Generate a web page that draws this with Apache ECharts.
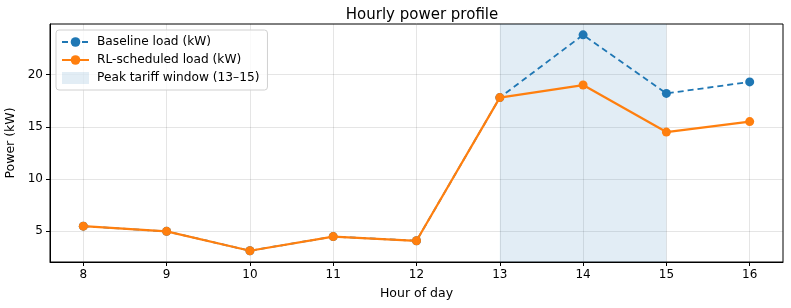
<!DOCTYPE html>
<html>
<head>
<meta charset="utf-8">
<script src="https://cdn.jsdelivr.net/npm/echarts@6/dist/echarts.min.js"></script>
<style>
  html, body { margin: 0; padding: 0; background: #fff; }
  #chart { width: 791px; height: 308px; }
</style>
</head>
<body>
<div id="chart"></div>
<script>
// hours of the day and loads
const hours = [8, 9, 10, 11, 12, 13, 14, 15, 16];
const baselineLoad = [5.5, 5.0, 3.15, 4.5, 4.1, 17.8, 23.8, 18.2, 19.3];
const rlLoad = [5.5, 5.0, 3.15, 4.5, 4.1, 17.8, 19.0, 14.5, 15.5];
const peakWindow = [13, 15];
const xTicks = [8, 9, 10, 11, 12, 13, 14, 15, 16];
const yTicks = [5, 10, 15, 20];

const font = 'DejaVu Sans';
const pairs = (vals) => hours.map((h, i) => [h, vals[i]]);
const bandColor = 'rgba(31,119,180,0.13)';

const chart = echarts.init(document.getElementById('chart'), null, { renderer: 'canvas' });

const option = {
  animation: false,
  textStyle: { fontFamily: font },
  title: {
    text: 'Hourly power profile',
    left: 417, top: 3, textAlign: 'center',
    textStyle: { fontFamily: font, fontSize: 15, fontWeight: 'normal', color: '#000' }
  },
  grid: {
    left: 50, right: 8, top: 24, bottom: 46,
    outerBoundsMode: 'none',
    show: true, borderColor: '#000', borderWidth: 1
  },
  legend: {
    orient: 'vertical',
    left: 56, top: 30,
    padding: [6, 8, 6, 5],
    itemGap: 6,
    itemWidth: 27, itemHeight: 12,
    backgroundColor: 'rgba(255,255,255,0.8)',
    borderColor: '#d0d0d0', borderWidth: 1, borderRadius: 3,
    textStyle: { fontFamily: font, fontSize: 12.2, color: '#000', padding: [0, 0, 0, 3] },
    data: [
      { name: 'Baseline load (kW)' },
      { name: 'RL-scheduled load (kW)' },
      { name: 'Peak tariff window (13–15)', icon: 'rect', itemStyle: { color: bandColor } }
    ]
  },
  xAxis: {
    type: 'value', min: 7.6, max: 16.4,
    name: 'Hour of day', nameLocation: 'middle', nameGap: 25,
    nameTextStyle: { fontFamily: font, fontSize: 12.5, color: '#000' },
    axisLine: { show: true, onZero: false, lineStyle: { color: '#000', width: 1 } },
    axisTick: { show: true, length: 4, customValues: xTicks, lineStyle: { color: '#000' } },
    axisLabel: { customValues: xTicks, fontFamily: font, fontSize: 12, color: '#000', margin: 7 },
    splitLine: { show: true, lineStyle: { color: 'rgba(0,0,0,0.1)', width: 1 } }
  },
  yAxis: {
    type: 'value', min: 2.07, max: 24.84,
    name: 'Power (kW)', nameLocation: 'middle', nameGap: 26,
    nameTextStyle: { fontFamily: font, fontSize: 12.5, color: '#000' },
    axisLine: { show: true, onZero: false, lineStyle: { color: '#000', width: 1 } },
    axisTick: { show: true, length: 4, customValues: yTicks, lineStyle: { color: '#000' } },
    axisLabel: { customValues: yTicks, fontFamily: font, fontSize: 12, color: '#000', margin: 7 },
    splitLine: { show: true, lineStyle: { color: 'rgba(0,0,0,0.1)', width: 1 } }
  },
  series: [
    {
      name: 'Peak tariff window (13–15)',
      type: 'line',
      data: [],
      itemStyle: { color: bandColor },
      markArea: {
        silent: true,
        itemStyle: { color: bandColor },
        data: [[{ xAxis: peakWindow[0] }, { xAxis: peakWindow[1] }]]
      },
      z: 1
    },
    {
      name: 'Baseline load (kW)',
      type: 'line',
      data: pairs(baselineLoad),
      symbol: 'circle', symbolSize: 9,
      itemStyle: { color: '#1f77b4' },
      lineStyle: { color: '#1f77b4', width: 1.8, type: [6, 4] },
      z: 2
    },
    {
      name: 'RL-scheduled load (kW)',
      type: 'line',
      data: pairs(rlLoad),
      symbol: 'circle', symbolSize: 9,
      itemStyle: { color: '#ff7f0e' },
      lineStyle: { color: '#ff7f0e', width: 2.2 },
      z: 3
    }
  ]
};

chart.setOption(option);
</script>
</body>
</html>
